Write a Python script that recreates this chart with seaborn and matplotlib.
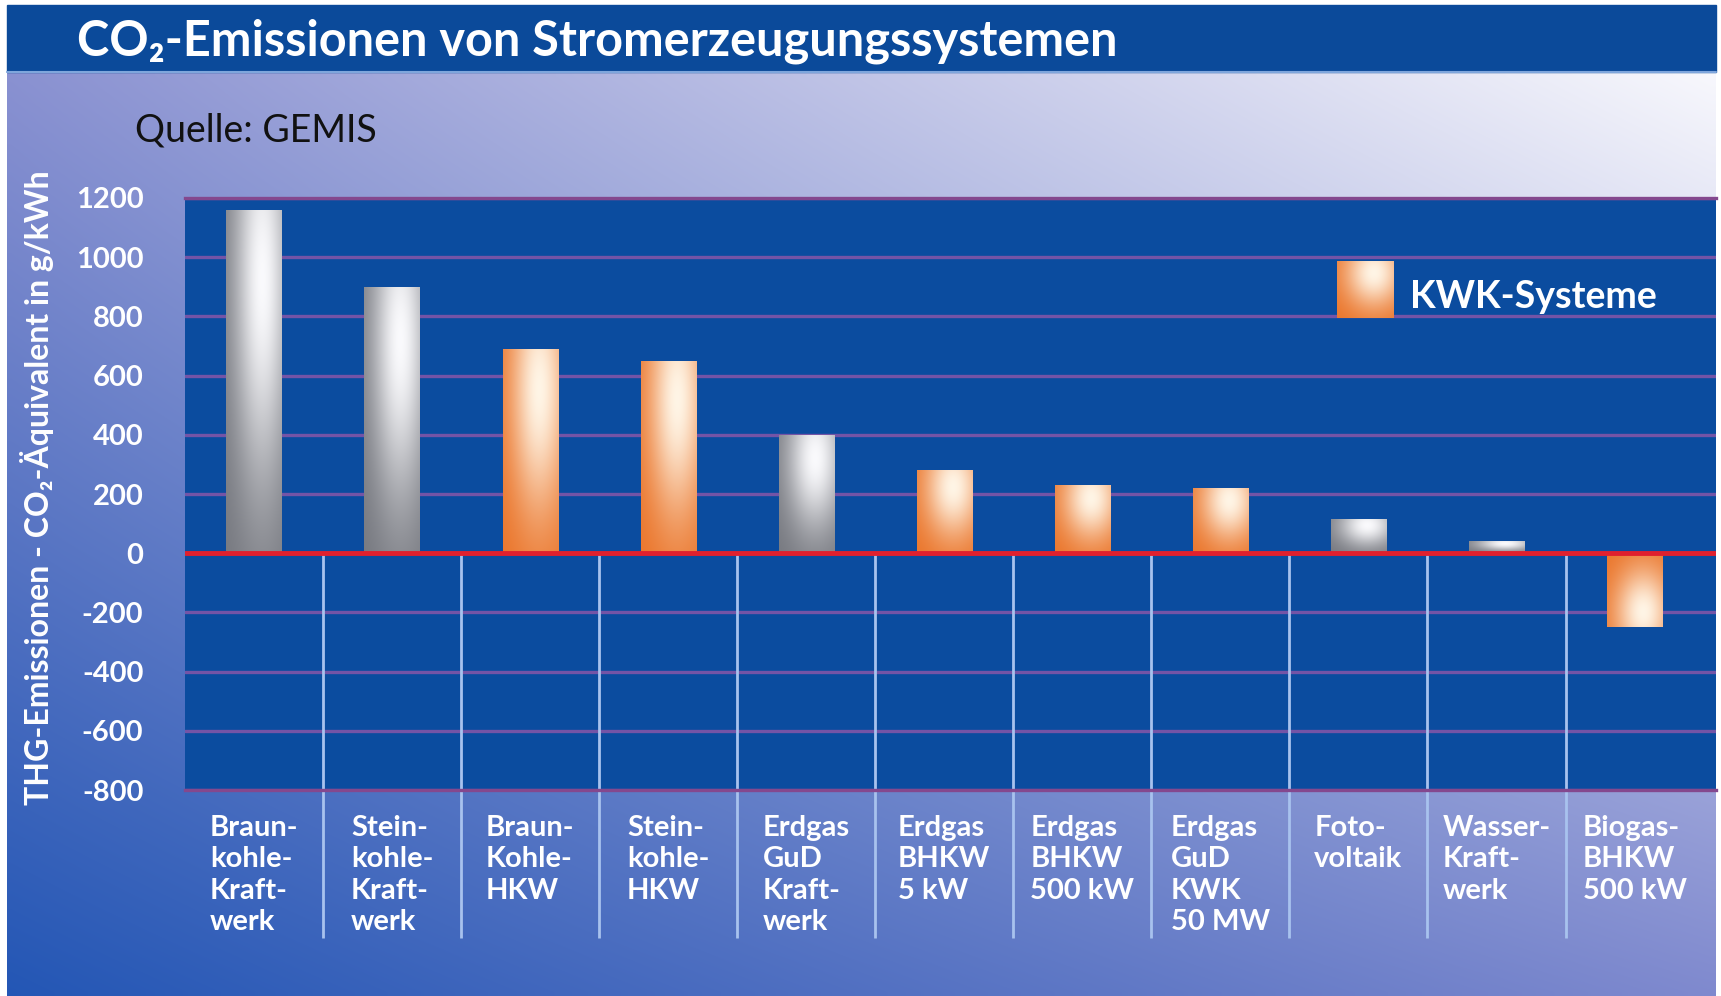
import numpy as np
import matplotlib
matplotlib.use("Agg")
import matplotlib.pyplot as plt
from matplotlib.patches import Rectangle
import seaborn as sns

# Daten (g CO2-Äquivalent pro kWh)
categories = [
    "Braun-\nkohle-\nKraft-\nwerk",
    "Stein-\nkohle-\nKraft-\nwerk",
    "Braun-\nKohle-\nHKW",
    "Stein-\nkohle-\nHKW",
    "Erdgas\nGuD\nKraft-\nwerk",
    "Erdgas\nBHKW\n5 kW",
    "Erdgas\nBHKW\n500 kW",
    "Erdgas\nGuD\nKWK\n50 MW",
    "Foto-\nvoltaik",
    "Wasser-\nKraft-\nwerk",
    "Biogas-\nBHKW\n500 kW",
]
emissions = [1160, 900, 690, 650, 400, 280, 230, 220, 115, 40, -250]
is_kwk = [False, False, True, True, False, True, True, True, False, False, True]
y_ticks = [-800, -600, -400, -200, 0, 200, 400, 600, 800, 1000, 1200]

W, H = 1721, 996
FONT = ["Lato", "DejaVu Sans"]

sns.set_style("white")
plt.rcParams["font.family"] = FONT

GRAY = (np.array([0.40, 0.41, 0.44]), np.array([0.98, 0.98, 0.99]))
ORANGE = (np.array([0.91, 0.40, 0.08]), np.array([1.0, 0.96, 0.90]))


def gradient(kind, n=120):
    # u: quer zum Balken, v: vom Nullpunkt weg
    u, v = np.meshgrid(np.linspace(0, 1, n), np.linspace(0, 1, n))
    t = 0.1 + 0.9 * np.exp(-((u - 0.65) / 0.5) ** 2 - ((v - 0.8) / 0.6) ** 2)
    t = np.clip(t, 0, 1)[..., None]
    dark, light = kind
    return dark * (1 - t) + light * t


fig = plt.figure(figsize=(W / 100, H / 100), dpi=100, facecolor="white")

# Hintergrund in Pixelkoordinaten
bg = fig.add_axes([0, 0, 1, 1], zorder=-10)
bg.set_xlim(0, W)
bg.set_ylim(H, 0)
bg.axis("off")
gx, gy = np.meshgrid(np.linspace(0, 1, 200), np.linspace(0, 1, 120))
tl = np.array([0.54, 0.57, 0.82])
tr = np.array([0.97, 0.97, 0.99])
bl = np.array([0.14, 0.34, 0.71])
br = np.array([0.50, 0.54, 0.81])
gx3, gy3 = gx[..., None], gy[..., None]
top = tl * (1 - gx3) + tr * gx3
bot = bl * (1 - gx3) + br * gx3
bg_img = top * (1 - gy3) + bot * gy3
bg.imshow(bg_img, extent=(7, 1716, 996, 72), aspect="auto", interpolation="bilinear")
bg.add_patch(Rectangle((7, 5), 1709, 67, color="#0b4a9a"))
bg.plot([7, 1716], [72, 72], color="#7fa6dc", lw=1.5)

fig.text(77 / W, 1 - 41 / H, "CO₂-Emissionen von Stromerzeugungssystemen",
         color="white", fontsize=35, fontweight="bold", va="center",
         ha="left", family=FONT)
fig.text(135 / W, 1 - 130 / H, "Quelle: GEMIS", color="#111111",
         fontsize=27, va="center", ha="left", family=FONT)
fig.text(37 / W, 1 - 488 / H, "THG-Emissionen - CO₂-Äquivalent in g/kWh",
         color="white", fontsize=23, fontweight="bold", rotation=90,
         va="center", ha="center", family=FONT)

# Hauptdiagramm
ax = fig.add_axes([185 / W, 206 / H, (1716 - 185) / W, 592 / H])
ax.set_facecolor("#0b4c9f")
colors = ["#f08a3c" if k else "#b0b0b4" for k in is_kwk]
sns.barplot(x=categories, y=emissions, hue=categories, palette=colors,
            legend=False, width=0.4, saturation=1, ax=ax, zorder=3)

for patch, kwk in zip(ax.patches, is_kwk):
    x0, y0 = patch.get_x(), patch.get_y()
    w, h = patch.get_width(), patch.get_height()
    img = ax.imshow(gradient(ORANGE if kwk else GRAY), origin="lower",
                    extent=(x0, x0 + w, y0, y0 + h), aspect="auto",
                    interpolation="bilinear", zorder=3.5)
    img.set_clip_path(patch)
    patch.set_edgecolor("none")

ax.set_xlim(-0.5, 10.59)
ax.set_ylim(-800, 1200)
ax.set_yticks(y_ticks)
ax.set_yticklabels([str(t) for t in y_ticks])
ax.set_ylabel("")
ax.set_xlabel("")

ax.grid(axis="y", color="#7454a6", lw=2.4, zorder=1)
ax.grid(axis="x", visible=False)
ax.set_axisbelow(True)
for side in ["left", "right"]:
    ax.spines[side].set_visible(False)
for side in ["top", "bottom"]:
    ax.spines[side].set_color("#84488e")
    ax.spines[side].set_linewidth(2.4)

ax.axhline(0, color="#e0202e", lw=3.5, zorder=4)

# Trennlinien zwischen den Kategorien
zero_frac = (0 - y_ticks[0]) / (y_ticks[-1] - y_ticks[0])
seps = np.arange(len(categories) - 1) + 0.5
ax.vlines(seps, -0.25, zero_frac, transform=ax.get_xaxis_transform(),
          color="#a8c2ee", lw=2, clip_on=False, zorder=2)

ax.tick_params(axis="y", colors="#d04a6a", length=25, width=2.4, pad=5,
               labelcolor="white", labelsize=21)
for lbl in ax.get_yticklabels():
    lbl.set_fontweight("bold")
for tick, val in zip(ax.yaxis.get_major_ticks(), y_ticks):
    if val == 0:
        tick.tick1line.set_color("#e0202e")
        tick.tick1line.set_markeredgewidth(3.5)
ax.tick_params(axis="x", length=0, pad=18, labelcolor="white", labelsize=21)
for lbl in ax.get_xticklabels():
    lbl.set_multialignment("left")
    lbl.set_fontweight("bold")
    lbl.set_linespacing(1.25)

# Legende
leg_ax = fig.add_axes([1337 / W, 1 - 318 / H, 57 / W, 57 / H])
leg_ax.imshow(gradient(ORANGE), origin="lower", aspect="auto",
              interpolation="bilinear")
leg_ax.axis("off")
fig.text(1410 / W, 1 - 297 / H, "KWK-Systeme", color="white", fontsize=27,
         fontweight="bold", va="center", ha="left", family=FONT)

fig.savefig("out.png", dpi=100)
